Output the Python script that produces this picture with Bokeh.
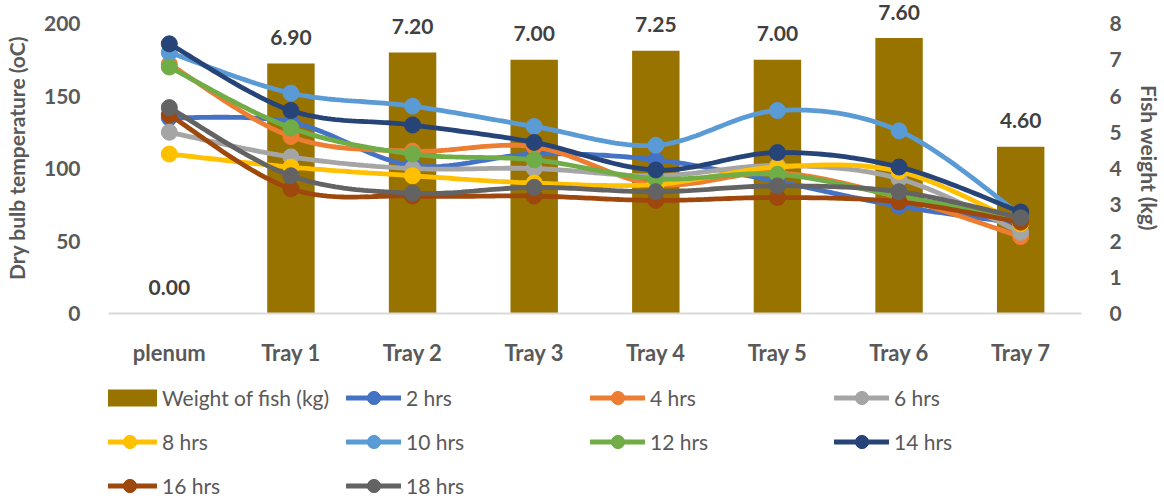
import numpy as np
from bokeh.plotting import figure
from bokeh.layouts import column
from bokeh.models import Range1d, LinearAxis, FixedTicker, Legend, LegendItem
from bokeh.embed import file_html
from bokeh.resources import INLINE
from bokeh.core.properties import value

# ---- data -------------------------------------------------------------
categories = ["plenum", "Tray 1", "Tray 2", "Tray 3", "Tray 4", "Tray 5", "Tray 6", "Tray 7"]
fish_weight = [0.00, 6.90, 7.20, 7.00, 7.25, 7.00, 7.60, 4.60]

hrs_2 = [135, 132, 102, 110, 106, 91, 74, 62]
hrs_4 = [172, 122, 112, 115, 89, 97, 80, 53]
hrs_6 = [125, 108, 100, 100, 95, 102, 93, 56]
hrs_8 = [110, 101, 95, 90, 89, 101, 98, 62]
hrs_10 = [180, 152, 143, 129, 116, 140, 126, 68]
hrs_12 = [170, 128, 110, 106, 93, 96, 81, 66]
hrs_14 = [186, 140, 130, 118, 99, 111, 101, 70]
hrs_16 = [137, 86, 81, 81, 78, 80, 77, 63]
hrs_18 = [142, 95, 83, 87, 84, 88, 84, 66]

series = [
    ("2 hrs", hrs_2, "#4472C4"),
    ("4 hrs", hrs_4, "#ED7D31"),
    ("6 hrs", hrs_6, "#A5A5A5"),
    ("8 hrs", hrs_8, "#FFC000"),
    ("10 hrs", hrs_10, "#5B9BD5"),
    ("12 hrs", hrs_12, "#70AD47"),
    ("14 hrs", hrs_14, "#264478"),
    ("16 hrs", hrs_16, "#9E480E"),
    ("18 hrs", hrs_18, "#636363"),
]

BAR_COLOR = "#997300"
TEXT = "#595959"
FONT = "Lato"
LINE_W = 4.8
MARK = 16

# headroom above the 200 / 8 ticks so the value labels are not clipped
TEMP_TOP = 214.5
WEIGHT_TOP = 8 * TEMP_TOP / 200


def smooth(ys, steps=30):
    """Catmull-Rom style Bezier curve through the points (x = 0, 1, 2 ...)."""
    y = np.asarray(ys, dtype=float)
    x = np.arange(len(y), dtype=float)
    n = len(y)
    out_x, out_y = [], []
    for i in range(n - 1):
        i0 = max(i - 1, 0)
        i3 = min(i + 2, n - 1)
        c1x = x[i] + (x[i + 1] - x[i0]) / 6.0
        c1y = y[i] + (y[i + 1] - y[i0]) / 6.0
        c2x = x[i + 1] - (x[i3] - x[i]) / 6.0
        c2y = y[i + 1] - (y[i3] - y[i]) / 6.0
        t = np.linspace(0, 1, steps, endpoint=(i == n - 2))
        a, b, c, d = (1 - t) ** 3, 3 * (1 - t) ** 2 * t, 3 * (1 - t) * t ** 2, t ** 3
        out_x.extend(a * x[i] + b * c1x + c * c2x + d * x[i + 1])
        out_y.extend(a * y[i] + b * c1y + c * c2y + d * y[i + 1])
    return out_x, out_y


xs = list(range(len(categories)))

p = figure(
    width=1164, height=380,
    x_range=Range1d(-0.5, len(categories) - 0.5),
    y_range=Range1d(0, TEMP_TOP),
    output_backend="svg", toolbar_location=None,
    min_border_left=103, min_border_right=79,
    min_border_top=2, min_border_bottom=67,
    x_axis_type=None, y_axis_type=None,
)
p.outline_line_color = None
p.xgrid.visible = False
p.ygrid.visible = False
p.extra_y_ranges = {"weight": Range1d(0, WEIGHT_TOP)}

# ---- axes -------------------------------------------------------------
def style_axis(ax, title=None):
    ax.major_tick_line_color = None
    ax.minor_tick_line_color = None
    ax.major_label_text_font = FONT
    ax.major_label_text_font_style = "bold"
    ax.major_label_text_color = TEXT
    ax.major_label_text_font_size = "21px"
    ax.major_label_standoff = 22
    if title:
        ax.axis_label = title
        ax.axis_label_text_font = FONT
        ax.axis_label_text_font_style = "bold"
        ax.axis_label_text_color = TEXT
        ax.axis_label_text_font_size = "21px"
        ax.axis_label_standoff = 12


xaxis = LinearAxis(ticker=FixedTicker(ticks=xs),
                   major_label_overrides={i: c for i, c in enumerate(categories)})
style_axis(xaxis)
xaxis.major_label_text_font_size = "22px"
xaxis.major_label_standoff = 19
xaxis.axis_line_color = "#D9D9D9"
xaxis.axis_line_width = 2
p.add_layout(xaxis, "below")

yleft = LinearAxis(ticker=FixedTicker(ticks=[0, 50, 100, 150, 200]))
style_axis(yleft, "Dry bulb temperature (oC)")
yleft.axis_line_color = None
p.add_layout(yleft, "left")

yright = LinearAxis(y_range_name="weight", ticker=FixedTicker(ticks=list(range(0, 9))))
style_axis(yright, "Fish weight (kg)")
yright.axis_line_color = None
p.add_layout(yright, "right")

# ---- bars (secondary axis) -------------------------------------------
p.vbar(x=xs, top=fish_weight, width=0.39, y_range_name="weight",
       fill_color=BAR_COLOR, line_color=None)
p.text(x=xs, y=fish_weight, text=[f"{w:.2f}" for w in fish_weight],
       y_range_name="weight", text_align="center", text_baseline="alphabetic",
       y_offset=-26, text_font=value(FONT), text_font_style="bold",
       text_font_size="21px", text_color="#404040")

# ---- temperature lines -----------------------------------------------
for label, vals, color in series:
    sx, sy = smooth(vals)
    p.line(sx, sy, line_color=color, line_width=LINE_W, line_cap="round")
    p.scatter(xs, vals, size=MARK, fill_color=color, line_color=color)

# ---- legend strip underneath -------------------------------------------
lg = figure(width=1164, height=122, output_backend="svg", toolbar_location=None,
            x_range=Range1d(0, 1164), y_range=Range1d(0, 122),
            min_border=0, x_axis_type=None, y_axis_type=None)
lg.outline_line_color = None
lg.xgrid.visible = False
lg.ygrid.visible = False

# key glyphs live off-canvas; only their legend swatches show
OFF_X, OFF_Y = [-50, -40], [-50, -50]
bar_key = lg.line(x=OFF_X, y=OFF_Y, line_color=BAR_COLOR, line_width=17, line_cap="butt")
items = [LegendItem(label="Weight of fish (kg)", renderers=[bar_key])]
for label, vals, color in series:
    k_ln = lg.line(x=OFF_X, y=OFF_Y, line_color=color, line_width=LINE_W, line_cap="round")
    k_mk = lg.scatter(x=OFF_X, y=OFF_Y, size=MARK, fill_color=color, line_color=color)
    items.append(LegendItem(label=label, renderers=[k_ln, k_mk]))

legend = Legend(items=items, ncols=4, orientation="horizontal",
                location=(-6, 0), margin=0, padding=0, spacing=11,
                glyph_width=55, glyph_height=33, label_width=173,
                label_height=33, label_standoff=5,
                label_text_font=FONT, label_text_font_size="21px",
                label_text_color=TEXT, border_line_color=None,
                background_fill_alpha=0)
lg.add_layout(legend, "center")

layout = column(p, lg, spacing=0)
open("out.html", "w").write(file_html(layout, INLINE))
